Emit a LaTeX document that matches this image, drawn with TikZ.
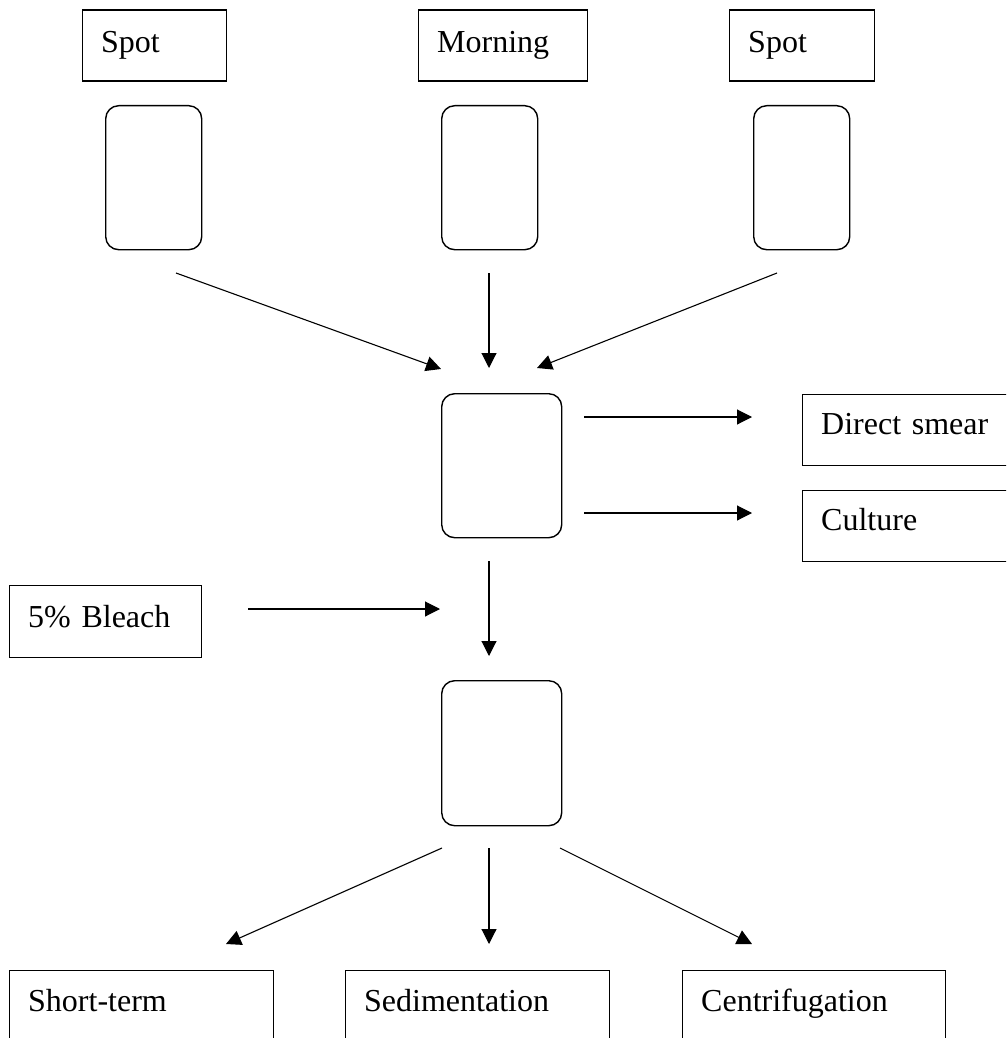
\documentclass[tikz,border=0pt]{standalone}
\usepackage{fontspec}
\setmainfont{Liberation Serif}
\usetikzlibrary{arrows.meta}
\begin{document}
\begin{tikzpicture}[x=1pt,y=-1pt,
  tbox/.style={draw, line width=1.4pt, rectangle, anchor=north west,
    inner xsep=19pt, inner ysep=0pt, align=left,
    font=\fontsize{32}{38}\selectfont},
  rbox/.style={draw, line width=1.4pt, rectangle, rounded corners=13pt,
    anchor=north west, inner sep=0pt},
  arr/.style={line width=1.1pt, -{Triangle[length=15pt,width=15pt]}}]
\useasboundingbox (0,0) rectangle (1006,1038);
\clip (0,0) rectangle (1006,1038);

% top labelled boxes
\node[tbox, text width=106pt, text height=42pt, text depth=29pt] (spotA) at (81.5,9.5) {Spot};
\node[tbox, text width=131pt, text height=42pt, text depth=29pt] (morning) at (417.5,9.5) {Morning};
\node[tbox, text width=107pt, text height=42pt, text depth=29pt] (spotB) at (728.5,9.5) {Spot};

% rounded boxes
\node[rbox, minimum width=96pt, minimum height=144pt] (r1) at (105,105) {};
\node[rbox, minimum width=96pt, minimum height=144pt] (r2) at (441,105) {};
\node[rbox, minimum width=96pt, minimum height=144pt] (r3) at (753,105) {};
\node[rbox, minimum width=120pt, minimum height=144pt] (rc) at (441,393) {};
\node[rbox, minimum width=120pt, minimum height=145pt] (rl) at (441,680) {};

% right boxes
\node[tbox, text width=212pt, text height=40pt, text depth=31pt] (smear) at (801.5,393.5) {Direct smear};
\node[tbox, text width=212pt, text height=40pt, text depth=31pt] (culture) at (801.5,489.5) {Culture};

% bleach
\node[tbox, text width=154pt, text height=42pt, text depth=30pt] (bleach) at (8.5,584.5) {5\% Bleach};

% bottom boxes
\node[tbox, text width=226pt, text height=41pt, text depth=50pt] (short) at (8.5,969.5) {Short-term};
\node[tbox, text width=226pt, text height=41pt, text depth=50pt] (sedi) at (344.5,969.5) {Sedimentation};
\node[tbox, text width=225pt, text height=41pt, text depth=50pt] (centri) at (681.5,969.5) {Centrifugation};

% connector end points
\coordinate (a1s) at (176,273);  \coordinate (a1e) at (441,369);
\coordinate (a2s) at (489,273);  \coordinate (a2e) at (489,368);
\coordinate (a3s) at (777,273);  \coordinate (a3e) at (537,368);
\coordinate (a4s) at (584,417);  \coordinate (a4e) at (752,417);
\coordinate (a5s) at (584,513);  \coordinate (a5e) at (752,513);
\coordinate (a6s) at (489,561);  \coordinate (a6e) at (489,656);
\coordinate (a7s) at (248,609);  \coordinate (a7e) at (440,609);
\coordinate (a8s) at (442,848);  \coordinate (a8e) at (226,944);
\coordinate (a9s) at (489,848);  \coordinate (a9e) at (489,944);
\coordinate (a10s) at (560,848); \coordinate (a10e) at (752,944);

\draw[arr] (a1s) -- (a1e);
\draw[arr] (a2s) -- (a2e);
\draw[arr] (a3s) -- (a3e);
\draw[arr] (a4s) -- (a4e);
\draw[arr] (a5s) -- (a5e);
\draw[arr] (a6s) -- (a6e);
\draw[arr] (a7s) -- (a7e);
\draw[arr] (a8s) -- (a8e);
\draw[arr] (a9s) -- (a9e);
\draw[arr] (a10s) -- (a10e);
\end{tikzpicture}
\end{document}
